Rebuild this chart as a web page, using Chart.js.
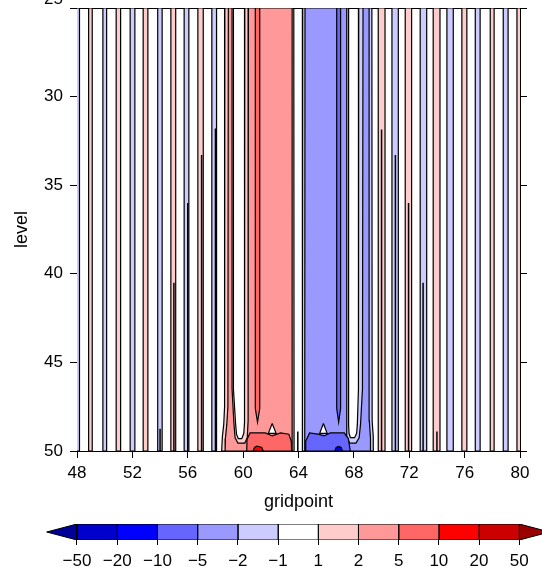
<!DOCTYPE html>
<html lang="en">
<head>
<meta charset="UTF-8">
<title>level / gridpoint</title>
<script src="https://cdn.jsdelivr.net/npm/chart.js@4.4.1/dist/chart.umd.min.js"></script>
<style>
  html, body { margin: 0; padding: 0; background: #fff; }
  #wrap { position: relative; width: 542px; height: 567px; overflow: hidden; }
  #plot { position: absolute; left: 0; top: -30px; }
  #cbar { position: absolute; left: 0; top: 515px; }
</style>
</head>
<body>
<div id="wrap">
  <canvas id="plot" width="542" height="560"></canvas>
  <canvas id="cbar" width="542" height="52"></canvas>
</div>
<script>
// contour levels shown on the label bar
const contourLevels = [-50, -20, -10, -5, -2, -1, 1, 2, 5, 10, 20, 50];
const gridpointTicks = [48, 52, 56, 60, 64, 68, 72, 76, 80];
const levelTicks = [25, 30, 35, 40, 45, 50];

// thin one-gridpoint bands, [left edge, right edge] in gridpoints
const posBands = [[48.84, 49.1], [50.83, 51.15], [52.78, 53.12], [54.78, 55.13], [56.73, 57.12],
                  [69.76, 70.25], [71.71, 72.17], [73.73, 74.22], [75.8, 76.16], [77.85, 78.13], [79.78, 80.2]];
const negBands = [[47.8, 48.18], [49.87, 50.14], [51.84, 52.18], [53.83, 54.15], [55.74, 56.08], [57.74, 58.08],
                  [70.75, 71.21], [72.79, 73.26], [74.72, 75.18], [76.77, 77.12], [78.79, 79.14]];
// +-2 contours inside the thin bands: [gridpoint, level where they begin] (down to 50)
const innerLines = [[54, 48.75], [55, 40.5], [56, 36], [57, 33.3], [58, 31.8], [63.95, 48.9],
                    [70, 31.85], [71, 33.3], [71.95, 36], [73, 40.5], [74, 48.9]];

// central jets: [lower contour of the band, outline as [gridpoint, level]]
const jetCells = [
  [1, [[58.68,25],[58.66,47.5],[58.6,48.5],[58.5,49.2],[58.45,50],[63.68,50],[63.66,25],[60.12,25],[60.1,48.4],
       [60.05,49.0],[59.9,49.3],[59.65,49.3],[59.52,49.05],[59.45,48.4],[59.3,46.5],[59.3,25]]],
  [2, [[58.93,25],[58.9,47.5],[58.82,48.5],[58.72,49.3],[58.7,50],[63.55,50],[63.54,25],[60.38,25],[60.36,48.3],
       [60.3,49.25],[60.12,49.55],[59.62,49.55],[59.42,49.25],[59.33,48.4],[59.2,46.5],[59.2,25]]],
  [5, [[60.88,25],[60.88,47.6],[61.04,48.38],[61.2,47.6],[61.2,25]]],
  [5, [[60.26,50],[60.28,49.35],[60.5,48.98],[61.6,48.98],[62.1,49.15],[62.7,48.98],[63.3,49.05],[63.48,49.45],[63.5,50]]],
  [10, [[60.72,50],[60.82,49.8],[61.0,49.72],[61.35,49.8],[61.45,50]]],
  [-1, [[62.1,48.45],[62.38,49.0],[61.82,49.0]]],
  [-2, [[64.3,25],[64.28,50],[69.42,50],[69.4,49.2],[69.32,48.3],[69.3,25],[68.35,25],[68.33,46.5],[68.25,48.5],
        [68.2,49.0],[68.05,49.25],[67.75,49.25],[67.65,49.0],[67.62,48.5],[67.62,25]]],
  [-5, [[64.47,25],[64.45,50],[69.22,50],[69.2,49.3],[69.12,48.3],[69.1,25],[68.66,25],[68.62,46.5],[68.48,48.5],
        [68.38,49.25],[68.15,49.55],[67.7,49.55],[67.5,49.25],[67.47,48.5],[67.5,25]]],
  [-10, [[66.76,25],[66.76,47.6],[66.9,48.38],[67.04,47.6],[67.04,25]]],
  [-10, [[64.5,50],[64.52,49.45],[64.8,48.98],[65.4,49.05],[65.85,49.15],[66.3,48.98],[67.3,48.98],[67.6,49.3],[67.74,50]]],
  [-20, [[66.62,50],[66.72,49.8],[66.9,49.74],[67.08,49.8],[67.18,50]]],
  [-1, [[65.8,48.45],[66.07,49.0],[65.53,49.0]]]
];

// styles
const fillColors = ['#000099', '#0000cc', '#0000ff', '#6666ff', '#9999ff', '#ccccff', '#ffffff',
                    '#ffcccc', '#ff9999', '#ff6666', '#ff0000', '#cc0000', '#990000'];
const fontFamily = '"Liberation Sans", Arial, Helvetica, sans-serif';
const arrowLen = 0.754;
const contourWidth = 1.2;

Chart.defaults.font.family = fontFamily;
Chart.defaults.color = '#000';

function colorFor(lower) {
  return fillColors[contourLevels.indexOf(lower) + 1];
}
function fmtLevel(v) {
  return v < 0 ? '\u2212' + Math.abs(v) : String(v);
}

const levelTop = levelTicks[0];
const levelBottom = levelTicks[levelTicks.length - 1];

const datasets = [];
function addShape(pts, color) {
  pts = pts.concat([pts[0]]);
  datasets.push({
    data: pts.map(p => ({x: p[0], y: p[1]})),
    showLine: true, fill: 'shape', tension: 0,
    backgroundColor: color, borderColor: '#000', borderWidth: contourWidth,
    pointRadius: 0, order: -datasets.length
  });
}
function addLine(pts, w) {
  datasets.push({
    data: pts.map(p => ({x: p[0], y: p[1]})),
    showLine: true, fill: false, tension: 0,
    borderColor: '#000', borderWidth: w,
    pointRadius: 0, order: -datasets.length
  });
}
function column(b) {
  return [[b[0], levelTop], [b[1], levelTop], [b[1], levelBottom], [b[0], levelBottom]];
}

posBands.forEach(b => addShape(column(b), colorFor(1)));
negBands.forEach(b => addShape(column(b), colorFor(-2)));
jetCells.forEach(c => addShape(c[1], colorFor(c[0])));
innerLines.forEach(l => addLine([[l[0], l[1]], [l[0], levelBottom]], 1.5));

const tickFont = {size: 17, lineHeight: 1.2};

new Chart(document.getElementById('plot'), {
  type: 'scatter',
  data: {datasets: datasets},
  options: {
    responsive: false,
    animation: false,
    events: [],
    layout: {padding: {top: 38, right: 15, bottom: 0, left: 0}},
    plugins: {legend: {display: false}, tooltip: {enabled: false}},
    scales: {
      x: {
        type: 'linear', position: 'bottom', min: 48, max: 80,
        afterBuildTicks: s => { s.ticks = gridpointTicks.map(v => ({value: v})); },
        afterFit: s => { s.height = 79; },
        grid: {drawOnChartArea: false, drawTicks: true, tickLength: 7, color: '#000'},
        border: {display: true, color: '#000', width: 1},
        ticks: {font: tickFont, padding: 5, maxRotation: 0, autoSkip: false, color: '#000'},
        title: {display: true, text: 'gridpoint', font: {size: 18}, color: '#000', padding: {top: 0, bottom: 17}}
      },
      xTop: {
        type: 'linear', position: 'top', min: 48, max: 80,
        afterFit: s => { s.height = 0; },
        ticks: {display: false},
        grid: {display: false},
        border: {display: true, color: '#000', width: 1}
      },
      y: {
        type: 'linear', position: 'left', min: 25, max: 50, reverse: true,
        afterBuildTicks: s => { s.ticks = levelTicks.map(v => ({value: v})); },
        afterFit: s => { s.width = 77; },
        grid: {drawOnChartArea: false, drawTicks: true, tickLength: 7, color: '#000'},
        border: {display: true, color: '#000', width: 1},
        ticks: {
          font: {size: 17, lineHeight: 1.0}, padding: 7, color: '#000',
          callback: v => v === levelTop ? [String(v), ''] : String(v)
        },
        title: {display: true, text: 'level', font: {size: 18}, color: '#000', padding: {top: 11, bottom: 0}}
      },
      yRight: {
        type: 'linear', position: 'right', min: 25, max: 50, reverse: true,
        afterBuildTicks: s => { s.ticks = levelTicks.map(v => ({value: v})); },
        afterFit: s => { s.width = 7; },
        ticks: {display: false},
        grid: {drawOnChartArea: false, drawTicks: true, tickLength: 7, color: '#000'},
        border: {display: true, color: '#000', width: 1}
      }
    }
  }
});

// label bar
const barSets = [];
function addBox(pts, color) {
  pts = pts.concat([pts[0]]);
  barSets.push({
    data: pts.map(p => ({x: p[0], y: p[1]})),
    showLine: true, fill: 'shape', tension: 0,
    backgroundColor: color, borderColor: '#000', borderWidth: 1,
    pointRadius: 0
  });
}
for (let i = 0; i < contourLevels.length - 1; i++) {
  addBox([[i, 0], [i + 1, 0], [i + 1, 1], [i, 1]], fillColors[i + 1]);
}
const nLast = contourLevels.length - 1;
addBox([[0, 0], [-arrowLen, 0.5], [0, 1]], fillColors[0]);
addBox([[nLast, 0], [nLast + arrowLen, 0.5], [nLast, 1]], fillColors[fillColors.length - 1]);

new Chart(document.getElementById('cbar'), {
  type: 'scatter',
  data: {datasets: barSets},
  options: {
    responsive: false,
    animation: false,
    events: [],
    layout: {padding: {top: 9, right: 0, bottom: 0, left: 0}},
    plugins: {legend: {display: false}, tooltip: {enabled: false}},
    scales: {
      x: {
        type: 'linear', min: -1.915, max: 11.565,
        afterBuildTicks: s => { s.ticks = contourLevels.map((v, i) => ({value: i})); },
        afterFit: s => { s.height = 27; },
        grid: {drawOnChartArea: false, drawTicks: true, tickLength: 5, color: '#000'},
        border: {display: false},
        ticks: {
          font: tickFont, padding: 6, maxRotation: 0, autoSkip: false, color: '#000',
          callback: (v, i) => fmtLevel(contourLevels[i])
        }
      },
      y: {display: false, min: 0, max: 1}
    }
  }
});
</script>
</body>
</html>
